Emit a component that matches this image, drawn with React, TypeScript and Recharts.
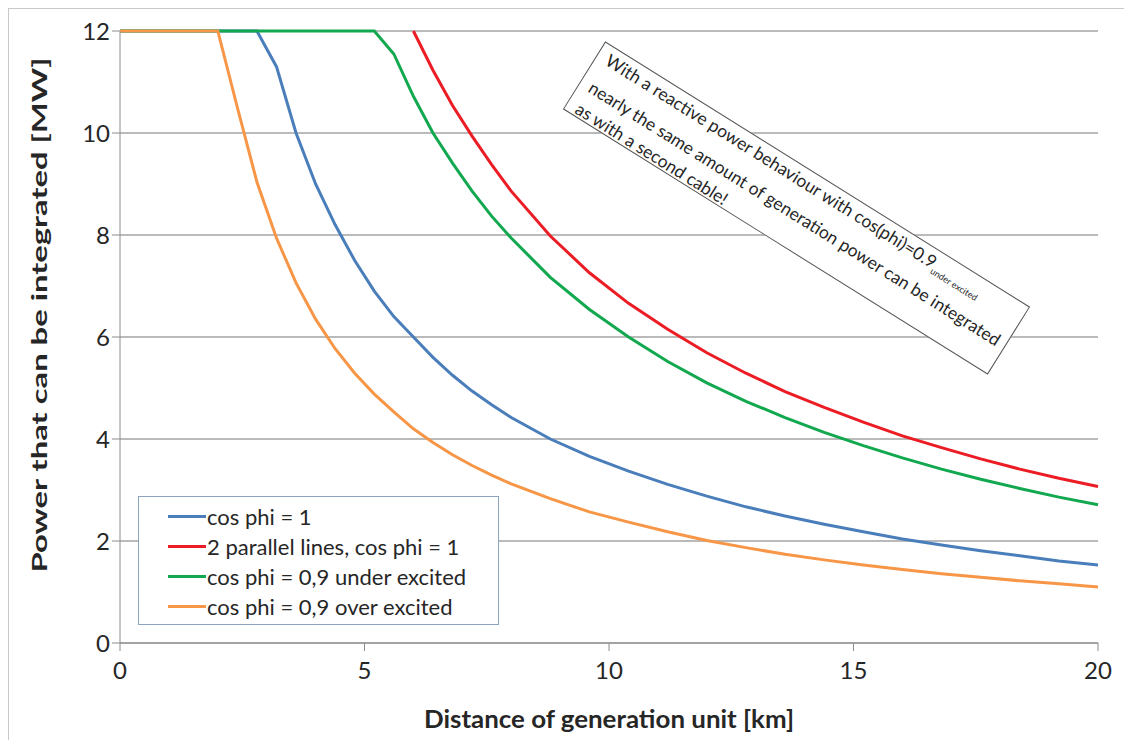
import { LineChart, Line, XAxis, YAxis, CartesianGrid, Legend } from 'recharts'

// distance of the generation unit [km]
const distanceKm = [
  0, 2.0, 2.4, 2.8, 3.2, 3.6, 4.0, 4.4, 4.8, 5.2, 5.6, 6.0, 6.4, 6.8, 7.2, 7.6,
  8.0, 8.8, 9.6, 10.4, 11.2, 12.0, 12.8, 13.6, 14.4, 15.2, 16.0, 16.8, 17.6, 18.4, 19.2, 20.0,
]

// power that can be integrated [MW]
const cosPhi1 = [
  12, 12, 12, 12, 11.3, 10.0, 9.0, 8.2, 7.5, 6.9, 6.4, 6.0, 5.6, 5.25, 4.94, 4.67,
  4.42, 4.0, 3.66, 3.37, 3.11, 2.88, 2.67, 2.49, 2.33, 2.18, 2.04, 1.92, 1.81, 1.71, 1.61, 1.53,
]
const parallelLines = [
  null, null, null, null, null, null, null, null, null, null, null, 12, 11.23, 10.54, 9.94, 9.38,
  8.86, 7.98, 7.26, 6.66, 6.15, 5.69, 5.29, 4.93, 4.62, 4.33, 4.06, 3.83, 3.61, 3.41, 3.23, 3.07,
]
const underExcited = [
  12, 12, 12, 12, 12, 12, 12, 12, 12, 12, 11.55, 10.72, 10.0, 9.41, 8.86, 8.37,
  7.94, 7.17, 6.54, 6.0, 5.52, 5.10, 4.74, 4.42, 4.13, 3.87, 3.63, 3.41, 3.21, 3.03, 2.86, 2.71,
]
const overExcited = [
  12, 12, 10.5, 9.04, 7.94, 7.06, 6.35, 5.77, 5.29, 4.88, 4.53, 4.2, 3.93, 3.69, 3.48, 3.29,
  3.12, 2.83, 2.57, 2.37, 2.18, 2.01, 1.87, 1.74, 1.63, 1.53, 1.44, 1.36, 1.29, 1.22, 1.16, 1.10,
]

const seriesOrder = ['blue', 'red', 'green', 'orange']
const xTicks = [0, 5, 10, 15, 20]
const yTicks = [0, 2, 4, 6, 8, 10, 12]

const data = distanceKm.map((d, i) => ({
  d,
  blue: cosPhi1[i],
  red: parallelLines[i],
  green: underExcited[i],
  orange: overExcited[i],
}))

const FONT = 'Lato, "Open Sans", sans-serif'
const TEXT = '#262626'

function LegendBox({ payload }: any) {
  const items = [...(payload || [])].sort(
    (a: any, b: any) => seriesOrder.indexOf(a.dataKey) - seriesOrder.indexOf(b.dataKey)
  )
  return (
    <div
      style={{
        boxSizing: 'border-box',
        width: 361,
        height: 129,
        border: '1px solid #8fa4bf',
        background: '#fff',
        paddingTop: 4,
        fontFamily: FONT,
        fontSize: 22,
        color: TEXT,
      }}
    >
      {items.map((p: any) => (
        <div key={p.value} style={{ display: 'flex', alignItems: 'center', height: 30 }}>
          <span style={{ display: 'inline-block', marginLeft: 29, width: 38, height: 3, background: p.color }} />
          <span style={{ marginLeft: 1, whiteSpace: 'nowrap' }}>{p.value}</span>
        </div>
      ))}
    </div>
  )
}

export default function App() {
  return (
    <div
      style={{
        position: 'relative',
        width: 1116,
        height: 740,
        border: '1px solid #c8c8c8',
        borderBottom: 'none',
        background: '#fff',
      }}
    >
      <LineChart width={1114} height={733} data={data} margin={{ top: 22, right: 25, left: 51, bottom: 9 }}>
        <CartesianGrid horizontal vertical={false} stroke="#a3a3a3" strokeWidth={1.5} />
        <XAxis
          dataKey="d"
          type="number"
          domain={[0, 20]}
          ticks={xTicks}
          height={90}
          stroke="#8c8c8c"
          tickSize={8}
          tickMargin={11}
          tick={{ fill: TEXT, fontSize: 24, fontFamily: FONT }}
          label={({ viewBox }: any) => (
            <text
              x={viewBox.x + viewBox.width / 2}
              y={719}
              textAnchor="middle"
              fill={TEXT}
              textLength={370}
              lengthAdjust="spacingAndGlyphs"
              style={{ fontFamily: FONT, fontSize: 24, fontWeight: 700 }}
            >
              Distance of generation unit [km]
            </text>
          )}
        />
        <YAxis
          type="number"
          domain={[0, 12]}
          ticks={yTicks}
          width={60}
          stroke="#8c8c8c"
          tickSize={8}
          tick={{ fill: TEXT, fontSize: 24, fontFamily: FONT }}
          label={({ viewBox }: any) => {
            const cx = viewBox.x - 22
            const cy = viewBox.y + viewBox.height / 2 - 22
            return (
              <text
                x={cx}
                y={cy}
                transform={`rotate(-90 ${cx} ${cy})`}
                textAnchor="middle"
                dominantBaseline="central"
                fill={TEXT}
                textLength={515}
                lengthAdjust="spacingAndGlyphs"
                style={{ fontFamily: FONT, fontSize: 21, fontWeight: 700 }}
              >
                Power that can be integrated [MW]
              </text>
            )
          }}
        />
        <Legend
          layout="vertical"
          align="center"
          verticalAlign="middle"
          content={<LegendBox />}
          wrapperStyle={{ position: 'absolute', left: 129, top: 487, width: 361, height: 129 }}
        />
        <Line type="linear" dataKey="blue" name="cos phi = 1" stroke="#4a7ebb" strokeWidth={3} dot={false} isAnimationActive={false} />
        <Line type="linear" dataKey="red" name="2 parallel lines, cos phi = 1" stroke="#ec1c24" strokeWidth={3} dot={false} isAnimationActive={false} />
        <Line type="linear" dataKey="green" name="cos phi = 0,9 under excited" stroke="#12a84f" strokeWidth={3} dot={false} isAnimationActive={false} />
        <Line type="linear" dataKey="orange" name="cos phi = 0,9 over excited" stroke="#f79646" strokeWidth={3} dot={false} isAnimationActive={false} />
      </LineChart>

      <div
        style={{
          position: 'absolute',
          left: 537,
          top: 159,
          width: 501,
          height: 80,
          boxSizing: 'border-box',
          border: '1.5px solid #555',
          background: '#fff',
          transform: 'rotate(32deg)',
          transformOrigin: 'center',
          padding: '1px 10px',
          fontFamily: FONT,
          fontSize: 17.5,
          lineHeight: '24.5px',
          color: TEXT,
          whiteSpace: 'nowrap',
        }}
      >
        <div>
          With a reactive power behaviour with cos(phi)=0.9
          <sub style={{ fontSize: 9 }}>under excited</sub>
        </div>
        <div>nearly the same amount of generation power can be integrated</div>
        <div>as with a second cable!</div>
      </div>
    </div>
  )
}
